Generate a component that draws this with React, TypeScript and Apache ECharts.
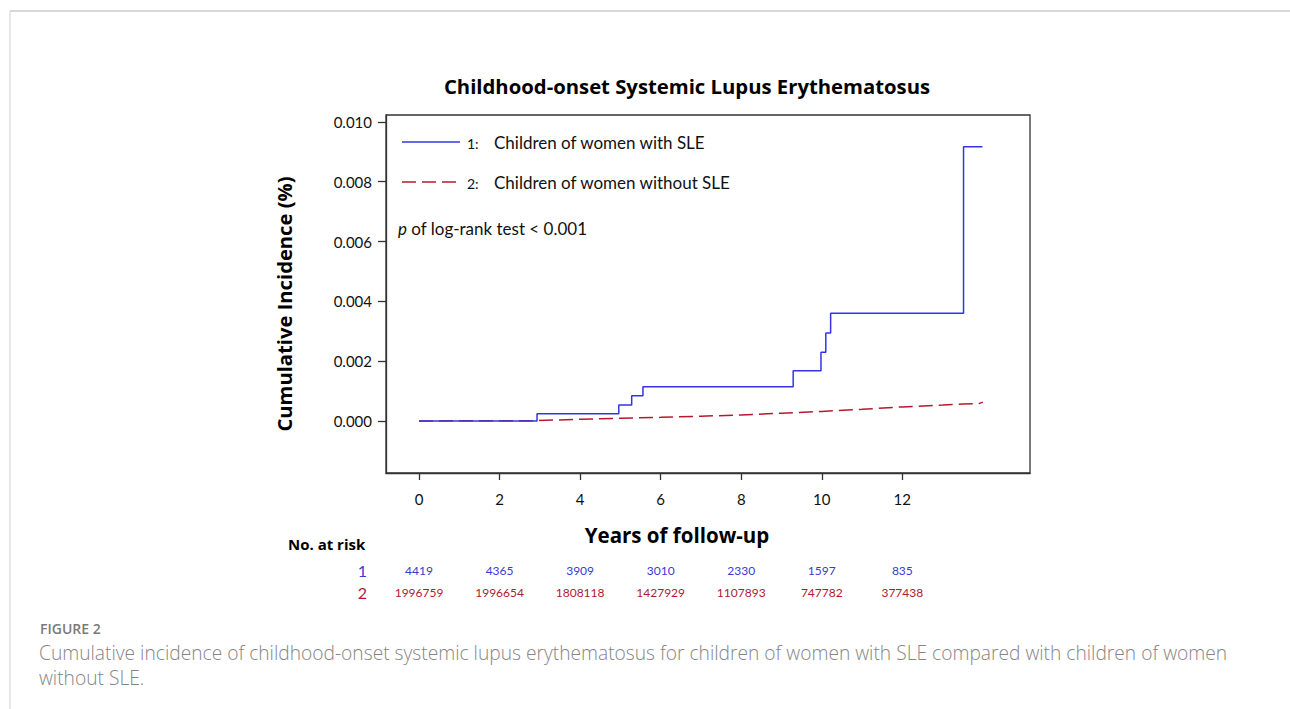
import React, { useEffect, useRef } from "react";
import * as echarts from "echarts";

const chartTitle = "Childhood-onset Systemic Lupus Erythematosus";
const xTitle = "Years of follow-up";
const yTitle = "Cumulative Incidence (%)";
const seriesNames = ["Children of women with SLE", "Children of women without SLE"];
const xTicks = [0, 2, 4, 6, 8, 10, 12];
const yTicks = [0, 0.002, 0.004, 0.006, 0.008, 0.01];

// Group 1: children of women with SLE (Kaplan-Meier style step curve)
const sleTimes = [0, 2.93, 4.96, 5.28, 5.56, 9.29, 9.98, 10.1, 10.22, 13.52, 13.99];
const sleValues = [0, 0.00024, 0.00053, 0.00084, 0.00114, 0.00168, 0.0023, 0.00294, 0.0036, 0.00917, 0.00917];

// Group 2: children of women without SLE
const nonTimes = [0, 2.9, 4, 5, 6, 7, 8, 9, 10, 11, 12, 13, 13.5, 13.9, 14.0];
const nonValues = [0, 0.00001, 0.00006, 0.00009, 0.00012, 0.00016, 0.0002, 0.00026, 0.00032, 0.00039, 0.00047, 0.00053, 0.00057, 0.00058, 0.00063];

// Number at risk at each x tick
const riskSLE = [4419, 4365, 3909, 3010, 2330, 1597, 835];
const riskNon = [1996759, 1996654, 1808118, 1427929, 1107893, 747782, 377438];

const captionLabel = "FIGURE 2";
const captionLines = [
  "Cumulative incidence of childhood-onset systemic lupus erythematosus for children of women with SLE compared with children of women",
  "without SLE.",
];

const BLUE = "#3434e6";
const RED = "#b8182f";
const RISK_BLUE = "#3a3ad0";
const RISK_RED = "#b01a33";
const FONT = "Lato";
const BOLD_FONT = "Open Sans";

export default function App() {
  const ref = useRef<HTMLDivElement>(null);
  useEffect(() => {
    document.body.style.margin = "0";
    const chart = echarts.init(ref.current!, null, { renderer: "svg" });
    const riskAxis = (vals: number[], color: string, offset: number) => ({
      type: "value",
      gridIndex: 0,
      position: "bottom",
      offset,
      min: -0.82,
      max: 15.17,
      axisLine: { show: false, onZero: false },
      axisTick: { show: false },
      splitLine: { show: false },
      axisLabel: {
        customValues: xTicks,
        margin: 0,
        color,
        fontFamily: FONT,
        fontSize: 12,
        formatter: (v: number) => {
          const i = xTicks.indexOf(v);
          return i >= 0 ? String(vals[i]) : "";
        },
      },
    });
    const option: any = {
      animation: false,
      backgroundColor: "#ffffff",
      grid: {
        left: 386,
        top: 115,
        width: 644,
        height: 358,
        show: true,
        borderColor: "#333",
        borderWidth: 1.3,
        backgroundColor: "transparent",
      },
      xAxis: [
        {
          type: "value",
          min: -0.82,
          max: 15.17,
          axisLine: { show: true, onZero: false, lineStyle: { color: "#333", width: 1.3 } },
          axisTick: { show: true, customValues: xTicks, length: 7, lineStyle: { color: "#333", width: 1.3 } },
          axisLabel: { customValues: xTicks, margin: 18, fontFamily: FONT, fontSize: 15, color: "#111" },
          splitLine: { show: false },
        },
        riskAxis(riskSLE, RISK_BLUE, 91),
        riskAxis(riskNon, RISK_RED, 113),
      ],
      yAxis: {
        type: "value",
        min: -0.00174,
        max: 0.01023,
        axisLine: { show: true, onZero: false, lineStyle: { color: "#333", width: 1.3 } },
        axisTick: { show: true, customValues: yTicks, length: 8, lineStyle: { color: "#333", width: 1.3 } },
        axisLabel: {
          customValues: yTicks,
          margin: 14,
          fontFamily: FONT,
          fontSize: 15,
          color: "#111",
          formatter: (v: number) => v.toFixed(3),
        },
        splitLine: { show: false },
      },
      series: [
        {
          name: seriesNames[1],
          type: "line",
          data: nonTimes.map((t, i) => [t, nonValues[i]]),
          showSymbol: false,
          lineStyle: { color: RED, width: 1.5, type: [14, 6] },
          z: 2,
        },
        {
          name: seriesNames[0],
          type: "line",
          step: "end",
          data: sleTimes.map((t, i) => [t, sleValues[i]]),
          showSymbol: false,
          lineStyle: { color: BLUE, width: 1.5 },
          z: 3,
        },
      ],
      graphic: [
        { type: "line", shape: { x1: 10, y1: 11, x2: 1290, y2: 11 }, style: { stroke: "#d8d8d8", lineWidth: 2 } },
        { type: "line", shape: { x1: 10, y1: 11, x2: 10, y2: 709 }, style: { stroke: "#d0d0d0", lineWidth: 1 } },
        {
          type: "text",
          x: 687,
          y: 86,
          style: { text: chartTitle, fontFamily: BOLD_FONT, fontWeight: "bold", fontSize: 20.3, fill: "#000", align: "center", verticalAlign: "middle" },
        },
        // axis titles
        {
          type: "text",
          x: 677,
          y: 535,
          style: { text: xTitle, fontFamily: BOLD_FONT, fontWeight: "bold", fontSize: 20.5, fill: "#000", align: "center", verticalAlign: "middle" },
        },
        {
          type: "text",
          x: 284,
          y: 304,
          rotation: Math.PI / 2,
          style: { text: yTitle, fontFamily: BOLD_FONT, fontWeight: "bold", fontSize: 20.2, fill: "#000", align: "center", verticalAlign: "middle" },
        },
        // in-plot legend
        { type: "line", shape: { x1: 402, y1: 142, x2: 460, y2: 142 }, style: { stroke: BLUE, lineWidth: 1.5 } },
        { type: "text", x: 467, y: 143, style: { text: "1:", fontFamily: FONT, fontSize: 14, fill: "#111", verticalAlign: "middle" } },
        { type: "text", x: 494, y: 142, style: { text: seriesNames[0], fontFamily: FONT, fontSize: 17, fill: "#111", verticalAlign: "middle" } },
        { type: "line", shape: { x1: 402, y1: 182, x2: 460, y2: 182 }, style: { stroke: RED, lineWidth: 1.5, lineDash: [14, 6] } },
        { type: "text", x: 467, y: 183, style: { text: "2:", fontFamily: FONT, fontSize: 14, fill: "#111", verticalAlign: "middle" } },
        { type: "text", x: 494, y: 182, style: { text: seriesNames[1], fontFamily: FONT, fontSize: 17, fill: "#111", verticalAlign: "middle" } },
        {
          type: "text",
          x: 398,
          y: 228,
          style: {
            text: "{i|p} of log-rank test < 0.001",
            fontFamily: FONT,
            fontSize: 17,
            fill: "#111",
            verticalAlign: "middle",
            rich: { i: { fontStyle: "italic", fontFamily: FONT, fontSize: 17, fill: "#111" } },
          },
        },
        // risk table labels
        { type: "text", x: 288, y: 544, style: { text: "No. at risk", fontFamily: BOLD_FONT, fontWeight: "bold", fontSize: 15, fill: "#000", verticalAlign: "middle" } },
        { type: "text", x: 367, y: 570, style: { text: "1", fontFamily: FONT, fontSize: 16, fill: RISK_BLUE, align: "right", verticalAlign: "middle" } },
        { type: "text", x: 367, y: 592, style: { text: "2", fontFamily: FONT, fontSize: 16, fill: RISK_RED, align: "right", verticalAlign: "middle" } },
        // caption
        { type: "text", x: 40, y: 628, style: { text: captionLabel, fontFamily: BOLD_FONT, fontWeight: 600, fontSize: 14, fill: "#7a7a7a", verticalAlign: "middle" } },
        { type: "text", x: 39, y: 652, style: { text: captionLines[0], fontFamily: "Open Sans", fontWeight: 300, fontSize: 19.2, fill: "#858585", verticalAlign: "middle" } },
        { type: "text", x: 39, y: 677, style: { text: captionLines[1], fontFamily: "Open Sans", fontWeight: 300, fontSize: 19.2, fill: "#858585", verticalAlign: "middle" } },
      ],
    };
    chart.setOption(option);
    return () => chart.dispose();
  }, []);
  return <div ref={ref} style={{ position: "absolute", left: 0, top: 0, width: 1290, height: 709 }} />;
}
